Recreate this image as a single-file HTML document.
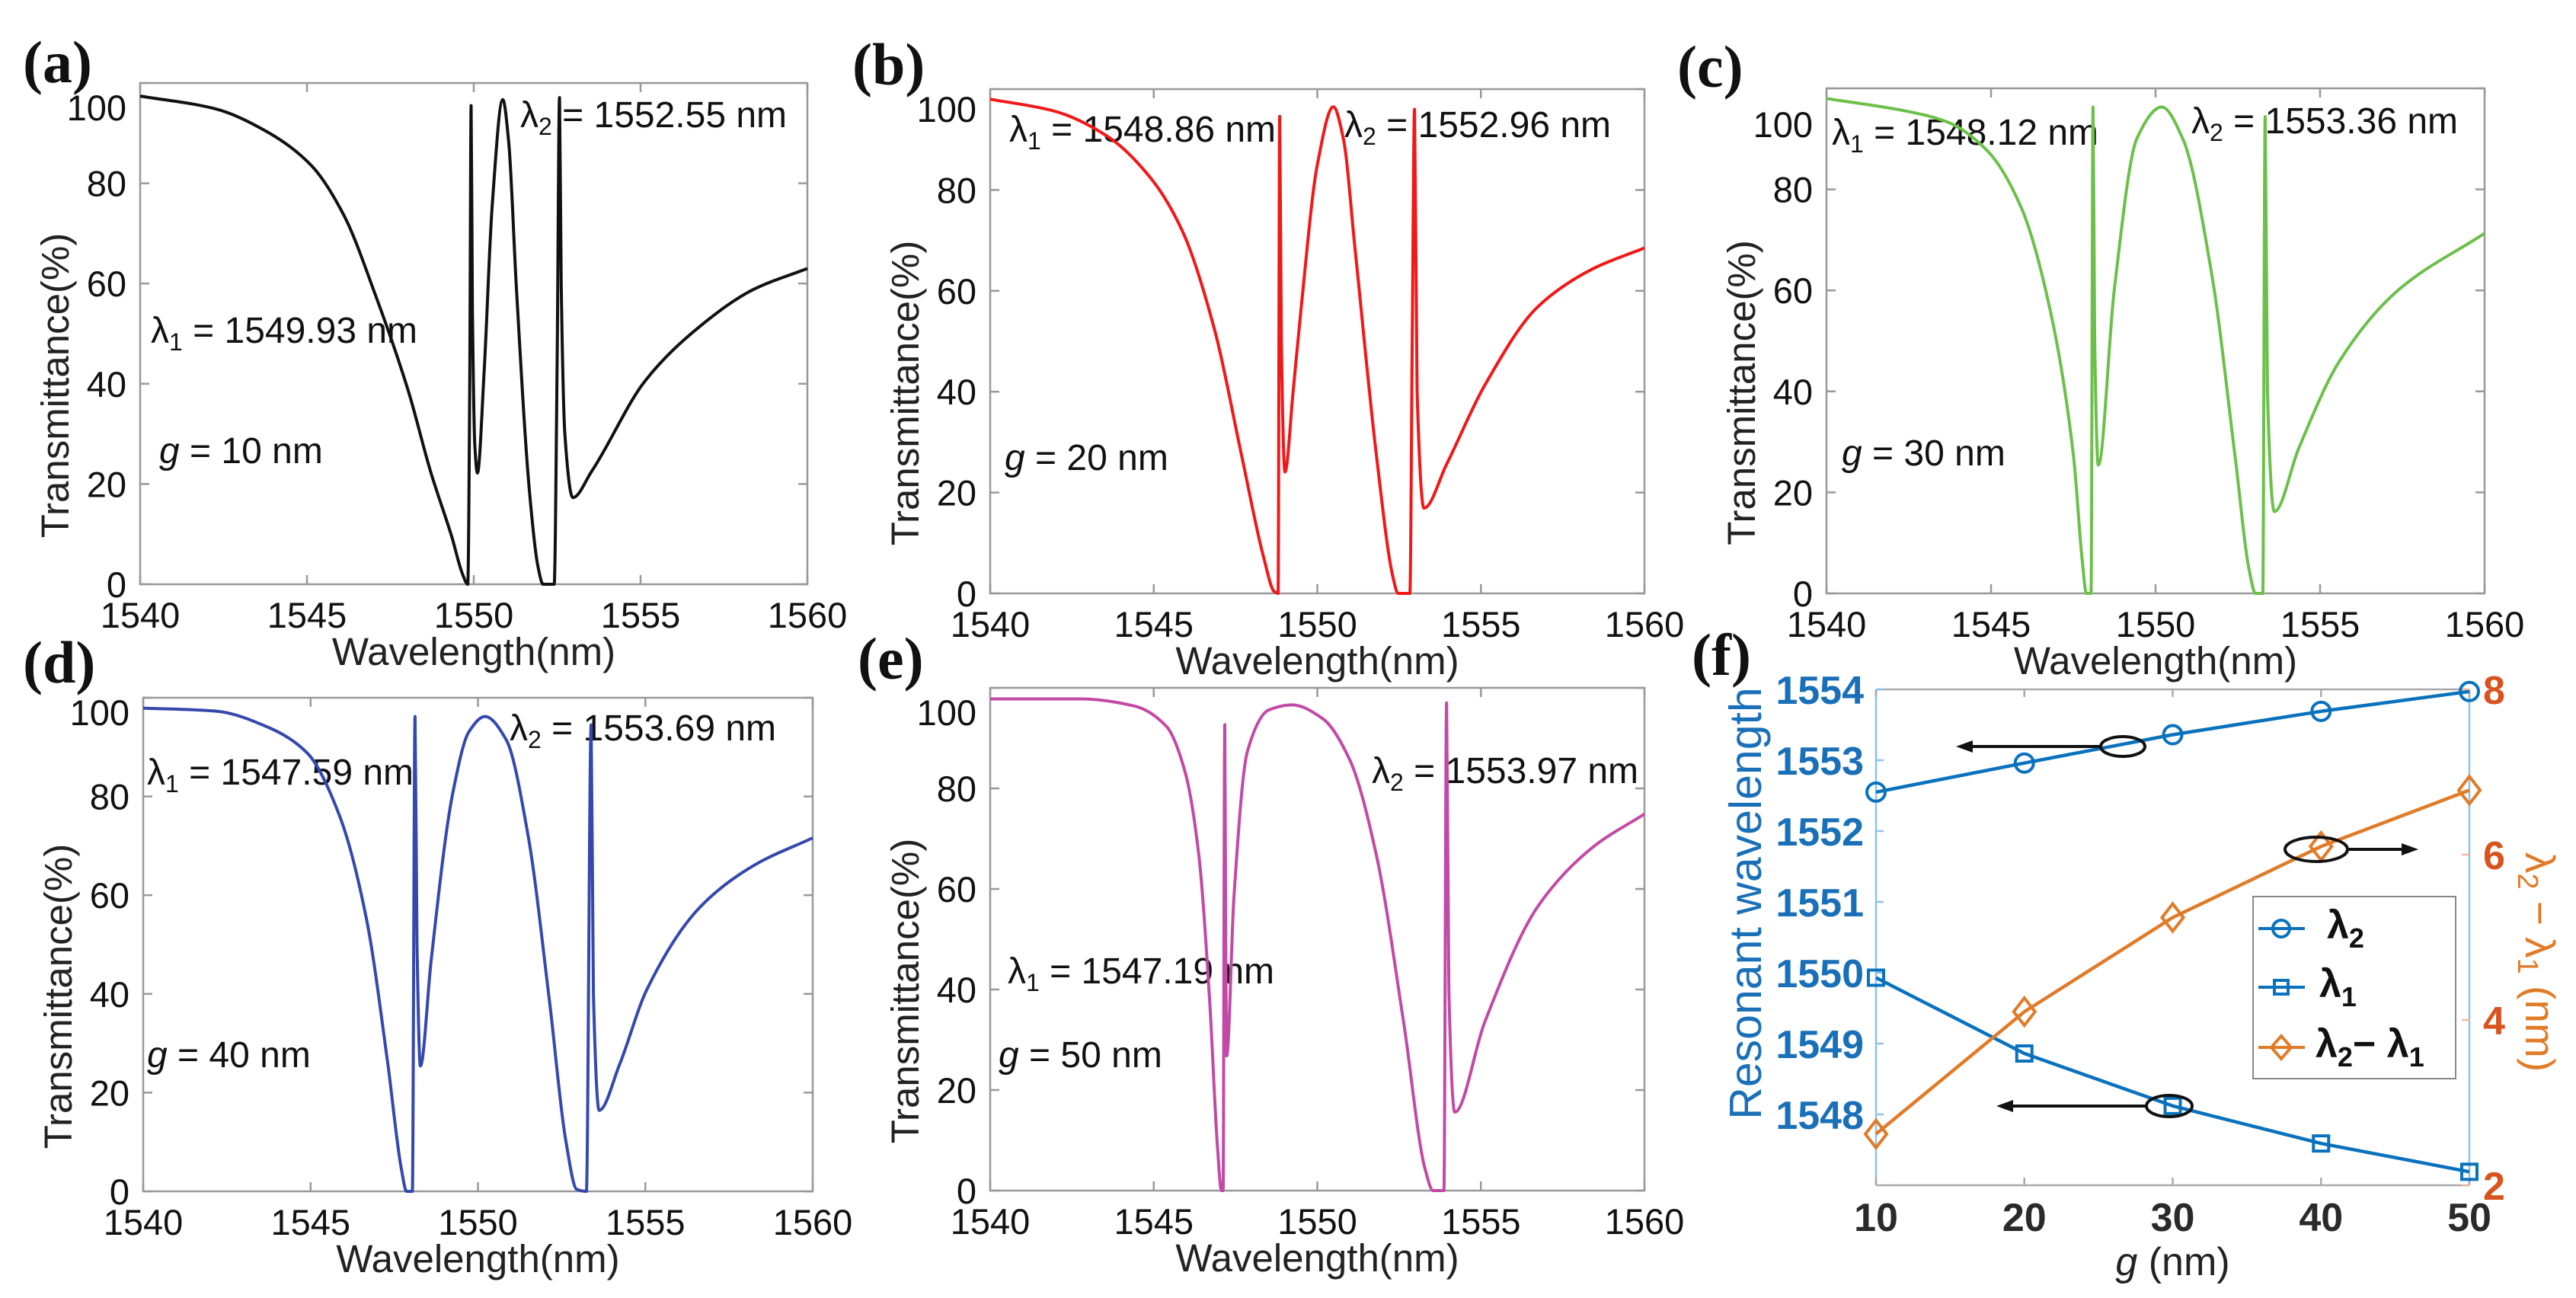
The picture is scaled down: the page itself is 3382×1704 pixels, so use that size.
<!DOCTYPE html>
<html><head><meta charset="utf-8"><style>
html,body{margin:0;padding:0;background:#fff;}
svg{display:block;font-family:"Liberation Sans",sans-serif;}
</style></head><body>
<svg id="fig" width="3382" height="1704" viewBox="0 0 3382 1704" xmlns="http://www.w3.org/2000/svg">
<rect x="0" y="0" width="3382" height="1704" fill="#fff"/>
<g font-family="Liberation Serif, serif" font-weight="bold" font-size="78" fill="#111">
<text x="30" y="108">(a)</text>
<text x="1119" y="111">(b)</text>
<text x="2202" y="114">(c)</text>
<text x="30" y="896">(d)</text>
<text x="1126" y="891">(e)</text>
<text x="2221" y="886">(f)</text>
</g>
<g font-size="48" fill="#111">
<text x="683" y="167">λ<tspan font-size="32" dy="10">2</tspan><tspan dy="-10"> = 1552.55 nm</tspan></text>
<text x="198" y="450">λ<tspan font-size="32" dy="10">1</tspan><tspan dy="-10"> = 1549.93 nm</tspan></text>
<text x="209" y="608"><tspan font-style="italic">g</tspan> = 10 nm</text>
<text x="1325" y="186">λ<tspan font-size="32" dy="10">1</tspan><tspan dy="-10"> = 1548.86 nm</tspan></text>
<text x="1765" y="180">λ<tspan font-size="32" dy="10">2</tspan><tspan dy="-10"> = 1552.96 nm</tspan></text>
<text x="1319" y="617"><tspan font-style="italic">g</tspan> = 20 nm</text>
<text x="2405" y="190">λ<tspan font-size="32" dy="10">1</tspan><tspan dy="-10"> = 1548.12 nm</tspan></text>
<text x="2877" y="175">λ<tspan font-size="32" dy="10">2</tspan><tspan dy="-10"> = 1553.36 nm</tspan></text>
<text x="2418" y="611"><tspan font-style="italic">g</tspan> = 30 nm</text>
<text x="193" y="1030">λ<tspan font-size="32" dy="10">1</tspan><tspan dy="-10"> = 1547.59 nm</tspan></text>
<text x="669" y="972">λ<tspan font-size="32" dy="10">2</tspan><tspan dy="-10"> = 1553.69 nm</tspan></text>
<text x="193" y="1401"><tspan font-style="italic">g</tspan> = 40 nm</text>
<text x="1323" y="1291">λ<tspan font-size="32" dy="10">1</tspan><tspan dy="-10"> = 1547.19 nm</tspan></text>
<text x="1801" y="1028">λ<tspan font-size="32" dy="10">2</tspan><tspan dy="-10"> = 1553.97 nm</tspan></text>
<text x="1311" y="1401"><tspan font-style="italic">g</tspan> = 50 nm</text>
</g>
<g id="layer"></g>
<g fill="none" stroke="#111" stroke-width="4">
<ellipse cx="2787" cy="980" rx="29" ry="13"/>
<ellipse cx="3041" cy="1115" rx="41" ry="16"/>
<ellipse cx="2848" cy="1452" rx="30" ry="14"/>
<line x1="2758" y1="980" x2="2585" y2="980"/>
<line x1="3082" y1="1115" x2="3158" y2="1115"/>
<line x1="2818" y1="1452" x2="2638" y2="1452"/>
</g>
<g fill="#111">
<polygon points="2568,980 2590,972 2590,988"/>
<polygon points="3175,1115 3153,1107 3153,1123"/>
<polygon points="2621,1452 2643,1444 2643,1460"/>
</g>
<g>
<rect x="2958" y="1177" width="266" height="239" fill="#fff" stroke="#888" stroke-width="2"/>
<g stroke="#0a72bd" stroke-width="4" fill="none">
<line x1="2965" y1="1219" x2="3026" y2="1219"/><circle cx="2995" cy="1219" r="11"/>
<line x1="2965" y1="1296" x2="3026" y2="1296"/><rect x="2986" y="1287" width="18" height="18"/>
</g>
<g stroke="#e07b28" stroke-width="4" fill="none">
<line x1="2965" y1="1375" x2="3026" y2="1375"/><polygon points="2995,1360 3008,1375 2995,1390 2982,1375"/>
</g>
<g font-size="52" font-weight="bold" fill="#111">
<text x="3055" y="1232">λ<tspan font-size="36" dy="12">2</tspan></text>
<text x="3045" y="1309">λ<tspan font-size="36" dy="12">1</tspan></text>
<text x="3040" y="1388">λ<tspan font-size="36" dy="12">2</tspan><tspan dy="-12">− λ</tspan><tspan font-size="36" dy="12">1</tspan></text>
</g>
</g>
</svg>
<script>
// ---- data: transmittance spectra (wavelength nm, transmittance %) ----
const xTickVals = [1540, 1545, 1550, 1555, 1560];
const yTickVals = [0, 20, 40, 60, 80, 100];
const wlA = [1540,1542.23,1543.85,1545.14,1546.1,1547.08,1548.05,1548.7,1549.34,1549.66,1549.82,1549.88,1549.92,1549.96,1550.03,1550.11,1550.31,1550.55,1550.87,1551.05,1551.28,1551.68,1551.92,1552.08,1552.41,1552.5,1552.57,1552.62,1552.73,1552.97,1553.54,1555.15,1556.77,1558.38,1560];
const tA = [97.4,94.9,90.1,83.5,73.7,57.2,38.3,22.6,9.5,2.1,0,40,95.5,55,28,22.2,42.4,75.3,96.7,88,58.8,17.7,3.7,0,0,45,97.1,60,30,17.3,22.6,40.7,51.4,58.8,63];
const wlB = [1540,1541.93,1543.57,1544.89,1545.88,1546.87,1547.69,1548.35,1548.68,1548.8,1548.85,1548.9,1549.01,1549.26,1549.51,1550.0,1550.49,1550.8,1551.15,1551.81,1552.31,1552.47,1552.83,1552.9,1552.97,1553.05,1553.26,1553.95,1555.11,1556.75,1558.4,1560];
const tB = [98,95.7,90.7,82.5,71.8,52,27.2,7.4,0.4,0,94.6,50,24.1,40,57,85,96.5,90,68.5,27.2,3.3,0,0,50,96,40,16.9,25.6,41.2,56.9,64.3,68.5];
const wlC = [1540,1542.42,1543.65,1544.88,1545.93,1546.81,1547.51,1547.77,1547.9,1548.04,1548.1,1548.15,1548.26,1548.74,1549.44,1550.19,1550.84,1551.72,1552.42,1552.86,1553.04,1553.26,1553.33,1553.4,1553.61,1554.35,1555.58,1557.33,1560];
const tC = [98,95.5,93.4,87.7,76.2,55.7,27,6.6,0,0,96.3,50,25.4,59.8,90.2,96.3,89.8,62.7,27,4.1,0,0,94.4,40,16.2,28.7,45.9,59.8,71.3];
const wlD = [1540,1542.16,1543.77,1544.9,1545.86,1546.67,1547.31,1547.71,1547.87,1548.04,1548.12,1548.18,1548.28,1548.6,1549.24,1549.73,1550.21,1550.85,1551.5,1552.14,1552.62,1552.95,1553.24,1553.38,1553.45,1553.62,1554.23,1555.04,1556.65,1558.26,1560];
const tD = [97.9,97.3,93.9,88.8,76.2,55.2,25.7,4.6,0,0,96.2,50,25.4,46.7,80.4,93.1,96.2,91.4,72,38.3,10.5,0.4,0,94.5,40,16.4,25.7,40.8,57.7,66.1,71.6];
const wlE = [1540,1542.75,1544.4,1545.39,1545.96,1546.38,1546.71,1546.95,1547.07,1547.12,1547.17,1547.2,1547.23,1547.45,1547.86,1548.52,1549.23,1550.16,1550.99,1551.81,1552.64,1553.29,1553.54,1553.87,1553.95,1554.02,1554.2,1555.11,1556.75,1558.4,1560];
const tE = [97.8,97.8,96.4,92.3,83.2,66.6,37.6,8.5,0,0,92.7,50,26.8,58.3,87.3,95.6,96.6,93.9,85.7,66.6,33.4,4.4,0,0,97,40,15.6,33.4,56.6,68.2,74.9];
// ---- data: panel f ----
const gVals = [10, 20, 30, 40, 50];
const lambda2 = [1552.55, 1552.96, 1553.36, 1553.69, 1553.97];
const lambda1 = [1549.93, 1548.86, 1548.12, 1547.59, 1547.19];
const lambdaDiff = [2.62, 4.10, 5.24, 6.10, 6.78];
const gTickVals = [10, 20, 30, 40, 50];
const leftTickVals = [1548, 1549, 1550, 1551, 1552, 1553, 1554];
const rightTickVals = [2, 4, 6, 8];

const NS = "http://www.w3.org/2000/svg";
const layer = document.getElementById("layer");
function mk(tag, attrs, parent) {
  const e = document.createElementNS(NS, tag);
  for (const k in attrs) e.setAttribute(k, attrs[k]);
  (parent || layer).appendChild(e);
  return e;
}
// monotone cubic (Fritsch-Carlson) path through pixel points
function monoPath(xs, ys) {
  const n = xs.length, d = [], m = [];
  for (let i = 0; i < n - 1; i++) d.push((ys[i+1] - ys[i]) / (xs[i+1] - xs[i]));
  m[0] = d[0]; m[n-1] = d[n-2];
  for (let i = 1; i < n - 1; i++) {
    if (d[i-1] * d[i] <= 0) m[i] = 0;
    else {
      const h0 = xs[i] - xs[i-1], h1 = xs[i+1] - xs[i];
      const w1 = 2*h1 + h0, w2 = h1 + 2*h0;
      m[i] = (w1 + w2) / (w1 / d[i-1] + w2 / d[i]);
    }
  }
  let s = "M" + xs[0].toFixed(1) + "," + ys[0].toFixed(1);
  for (let i = 0; i < n - 1; i++) {
    const h = (xs[i+1] - xs[i]) / 3;
    s += " C" + (xs[i]+h).toFixed(1) + "," + (ys[i]+m[i]*h).toFixed(1) + " " +
         (xs[i+1]-h).toFixed(1) + "," + (ys[i+1]-m[i+1]*h).toFixed(1) + " " +
         xs[i+1].toFixed(1) + "," + ys[i+1].toFixed(1);
  }
  return s;
}

const panels = [
  {id:"a", L:184, R:1060, T:109, B:767, wl:wlA, t:tA, color:"#111111", topOff:32},
  {id:"b", L:1300, R:2159, T:117, B:779, wl:wlB, t:tB, color:"#f01818", topOff:26},
  {id:"c", L:2398, R:3262, T:116, B:779, wl:wlC, t:tC, color:"#6cc04a", topOff:47},
  {id:"d", L:188, R:1067, T:916, B:1564, wl:wlD, t:tD, color:"#3548ad", topOff:19},
  {id:"e", L:1300, R:2159, T:903, B:1563, wl:wlE, t:tE, color:"#c24aa6", topOff:32}
];

panels.forEach(p => {
  const g = mk("g", {});
  
  
  const sx = v => p.L + (v - 1540) / 20 * (p.R - p.L);
  const sy = v => p.B - v / 100 * (p.B - p.T);
  const box = mk("rect", {x:p.L, y:p.T, width:p.R-p.L, height:p.B-p.T, fill:"none", stroke:"#999", "stroke-width":2.5}, g);
  
  
  xTickVals.forEach(v => {
    const x = sx(v);
    mk("line", {x1:x, y1:p.B, x2:x, y2:p.B-12, stroke:"#999", "stroke-width":2.5}, g);
    mk("line", {x1:x, y1:p.T, x2:x, y2:p.T+12, stroke:"#999", "stroke-width":2.5}, g);
    const t = mk("text", {x:x, y:p.B+57, "text-anchor":"middle", "font-size":47, fill:"#111"}, g);
    
    
    t.textContent = v;
  });
  yTickVals.forEach(v => {
    const y = sy(v);
    mk("line", {x1:p.L, y1:y, x2:p.L+12, y2:y, stroke:"#999", "stroke-width":2.5}, g);
    mk("line", {x1:p.R, y1:y, x2:p.R-12, y2:y, stroke:"#999", "stroke-width":2.5}, g);
    const t = mk("text", {x:p.L-18, y:y+17+(v===100?p.topOff:0), "text-anchor":"end", "font-size":47, fill:"#111"}, g);
    
    
    t.textContent = v;
  });
  const xt = mk("text", {x:(p.L+p.R)/2, y:p.B+106, "text-anchor":"middle", "font-size":51, fill:"#222"}, g);
  
  
  xt.textContent = "Wavelength(nm)";
  const cy = (p.T+p.B)/2 + 68, cx = p.L - 112;
  const yt = mk("text", {x:cx, y:cy, "text-anchor":"middle", "font-size":51, fill:"#222", transform:`rotate(-90 ${cx} ${cy}) translate(0 18)`}, g);
  
  
  yt.textContent = "Transmittance(%)";
  const xs = p.wl.map(sx), ys = p.t.map(sy);
  const line = mk("path", {d:monoPath(xs, ys), fill:"none", stroke:p.color, "stroke-width":4, "stroke-linejoin":"round"}, g);
  
  
});

// ---- panel f ----
(function(){
  const L=2463, R=3242, T=905, B=1556;
  const g = mk("g", {});
  
  
  layer.parentNode.insertBefore(g, layer.nextSibling);
  const sx = v => L + (v - 10) / 40 * (R - L);
  const syL = v => B - (v - 1547) / 7 * (B - T);
  const syR = v => B - (v - 2) / 6 * (B - T);
  const blue = "#0a72bd", orange = "#e07b28", orangeText = "#d9531e";
  mk("line", {x1:L, y1:T, x2:R, y2:T, stroke:"#aaa", "stroke-width":2.5}, g);
  mk("line", {x1:L, y1:B, x2:R, y2:B, stroke:"#aaa", "stroke-width":2.5}, g);
  mk("line", {x1:L, y1:T, x2:L, y2:B, stroke:"#8cc3ea", "stroke-width":2.5}, g);
  mk("line", {x1:R, y1:T, x2:R, y2:B, stroke:"#8cc3ea", "stroke-width":2.5}, g);
  gTickVals.forEach(v => {
    const x = sx(v);
    mk("line", {x1:x, y1:B, x2:x, y2:B-10, stroke:"#aaa", "stroke-width":2.5}, g);
    mk("line", {x1:x, y1:T, x2:x, y2:T+10, stroke:"#aaa", "stroke-width":2.5}, g);
    const t = mk("text", {x:x, y:B+60, "text-anchor":"middle", "font-size":52, "font-weight":"bold", fill:"#2a2a2a"}, g);
    
    
    t.textContent = v;
  });
  leftTickVals.forEach(v => {
    const y = syL(v);
    mk("line", {x1:L, y1:y, x2:L+10, y2:y, stroke:"#8cc3ea", "stroke-width":2.5}, g);
    const t = mk("text", {x:L-16, y:y+19, "text-anchor":"end", "font-size":52, "font-weight":"bold", fill:"#1a70b8"}, g);
    
    
    t.textContent = v;
  });
  rightTickVals.forEach(v => {
    const y = syR(v);
    mk("line", {x1:R, y1:y, x2:R-10, y2:y, stroke:"#f4b79a", "stroke-width":2.5}, g);
    const t = mk("text", {x:R+18, y:y+19, "text-anchor":"start", "font-size":52, "font-weight":"bold", fill:orangeText}, g);
    
    
    t.textContent = v;
  });
  const xt = mk("text", {x:(L+R)/2, y:B+118, "text-anchor":"middle", "font-size":52, fill:"#222"}, g);
  
  
  xt.innerHTML = '<tspan font-style="italic">g</tspan> (nm)';
  const lx = 2312, ly = 1186;
  const lt = mk("text", {x:lx, y:ly, "text-anchor":"middle", "font-size":59, fill:"#1a70b8", transform:`rotate(-90 ${lx} ${ly})`}, g);
  
  
  lt.textContent = "Resonant wavelength";
  const rx = 3316, ry = 1263;
  const rt = mk("text", {x:rx, y:ry, "text-anchor":"middle", "font-size":55, fill:orange, transform:`rotate(90 ${rx} ${ry})`}, g);
  
  
  rt.innerHTML = 'λ<tspan font-size="38" dy="10">2</tspan><tspan dy="-10"> − λ</tspan><tspan font-size="38" dy="10">1</tspan><tspan dy="-10"> (nm)</tspan>';

  function series(vals, sy, color, marker, name) {
    const sg = mk("g", {}, g);
    
    
    const pts = vals.map((v, i) => sx(gVals[i]).toFixed(1) + "," + sy(v).toFixed(1)).join(" ");
    mk("polyline", {points:pts, fill:"none", stroke:color, "stroke-width":4.5, "stroke-linejoin":"round"}, sg);
    vals.forEach((v, i) => {
      const x = sx(gVals[i]), y = sy(v);
      let m;
      if (marker === "circle") m = mk("circle", {cx:x, cy:y, r:12, fill:"none", stroke:color, "stroke-width":4}, sg);
      else if (marker === "square") m = mk("rect", {x:x-10, y:y-10, width:20, height:20, fill:"none", stroke:color, "stroke-width":4}, sg);
      else m = mk("polygon", {points:`${x},${y-18} ${x+14},${y} ${x},${y+18} ${x-14},${y}`, fill:"none", stroke:color, "stroke-width":4}, sg);
      
      
    });
  }
  series(lambda2, syL, blue, "circle", "series-lambda2");
  series(lambda1, syL, blue, "square", "series-lambda1");
  series(lambdaDiff, syR, orange, "diamond", "series-difference");
})();
</script>
</body></html>
